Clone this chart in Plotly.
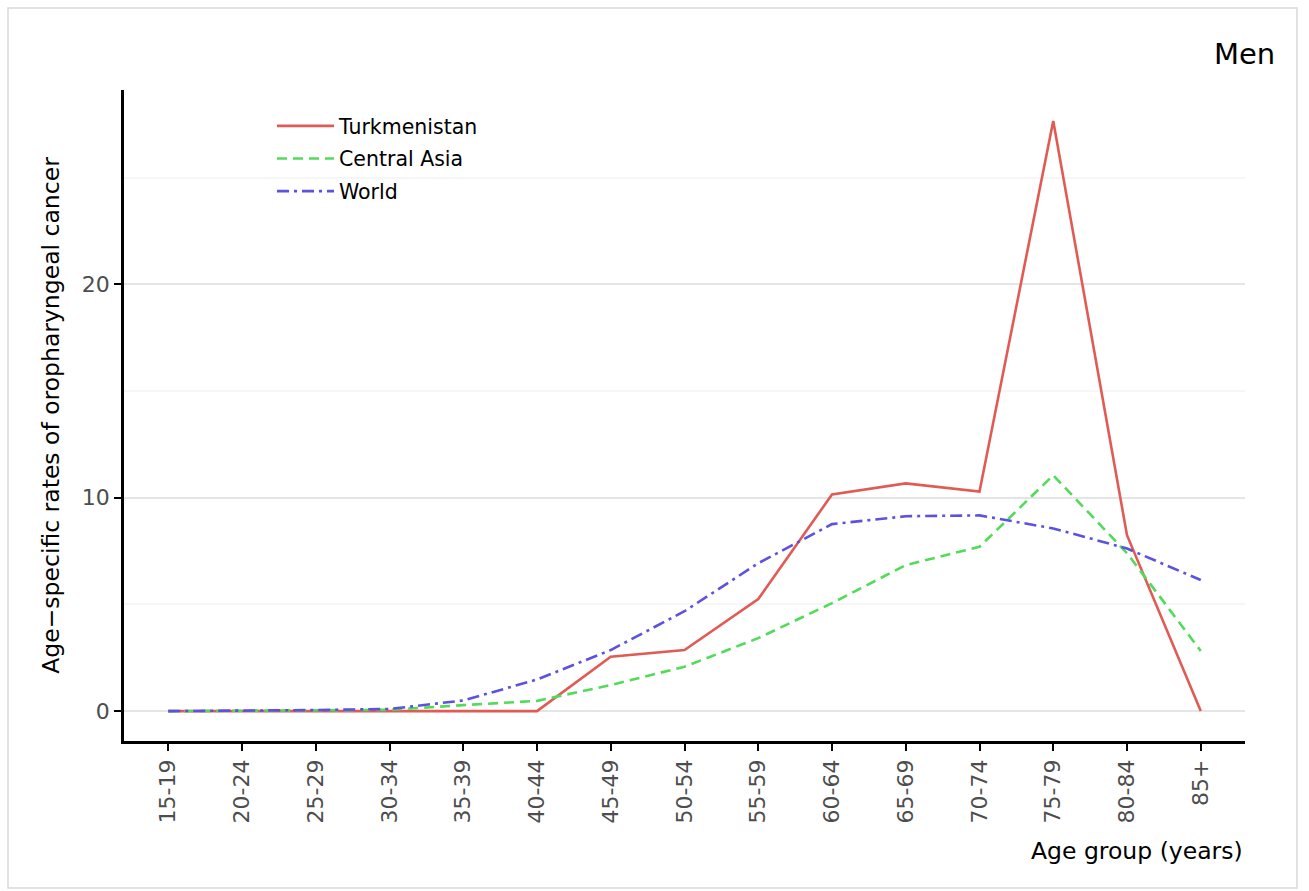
import plotly.graph_objects as go

# Age-specific rates of oropharyngeal cancer, men
age_groups = ["15-19", "20-24", "25-29", "30-34", "35-39", "40-44", "45-49",
              "50-54", "55-59", "60-64", "65-69", "70-74", "75-79", "80-84", "85+"]
turkmenistan = [0.0, 0.0, 0.0, 0.0, 0.0, 0.0, 2.55, 2.86, 5.25, 10.15, 10.67,
                10.29, 27.65, 8.24, 0.0]
central_asia = [0.0, 0.01, 0.03, 0.06, 0.28, 0.48, 1.22, 2.08, 3.42, 5.06, 6.84,
                7.70, 11.05, 7.40, 2.82]
world = [0.0, 0.02, 0.05, 0.10, 0.50, 1.48, 2.86, 4.68, 6.93, 8.76, 9.13,
         9.17, 8.56, 7.62, 6.14]

series = [
    ("Turkmenistan", turkmenistan, "#E05B54", "solid"),
    ("Central Asia", central_asia, "#52DB58", "10px,6px"),
    ("World", world, "#5B52DE", "12px,5px,3px,5px"),
]

FONT = "DejaVu Sans"
x_idx = list(range(len(age_groups)))

fig = go.Figure()
for name, vals, color, dash in series:
    fig.add_trace(go.Scatter(
        x=x_idx, y=vals, name=name, mode="lines", legendgroup=name,
        line=dict(color=color, width=2.6, dash=dash),
    ))

W, H = 1309, 891
L, R, T, B = 124, 64, 90, 150
pw, ph = W - L - R, H - T - B


def px_x(p):
    return (p - L) / pw


def px_y(p):
    return (H - B - p) / ph


fig.update_layout(
    width=W, height=H,
    margin=dict(l=L, r=R, t=T, b=B, pad=0),
    paper_bgcolor="white", plot_bgcolor="white",
    font=dict(family=FONT, color="black"),
    showlegend=True,
    legend=dict(
        x=px_x(272), y=px_y(106), xanchor="left", yanchor="top",
        bgcolor="rgba(0,0,0,0)", borderwidth=0,
        font=dict(family=FONT, size=20.5, color="black"),
        itemwidth=57, tracegroupgap=3,
    ),
    xaxis=dict(
        range=[-0.6, 14.6],
        tickmode="array", tickvals=x_idx, ticktext=age_groups,
        tickangle=-90,
        tickfont=dict(family=FONT, size=22, color="#4D4D4D"),
        ticks="outside", ticklen=7, tickwidth=2.2, tickcolor="black",
        showline=True, linecolor="black", linewidth=2.6,
        showgrid=False, zeroline=False,
    ),
    yaxis=dict(
        range=[-1.4, 29.1],
        tickmode="array", tickvals=[0, 10, 20], ticktext=["0", "10", "20"],
        tickfont=dict(family=FONT, size=22, color="#4D4D4D"),
        ticks="outside", ticklen=7, tickwidth=2.2, tickcolor="black",
        showline=True, linecolor="black", linewidth=2.6,
        showgrid=True, gridcolor="#E5E5E5", gridwidth=2,
        minor=dict(tickmode="array", tickvals=[5, 15, 25], showgrid=True,
                   gridcolor="#F6F6F6", gridwidth=2, ticks=""),
        zeroline=False,
        title=dict(text="Age\u2212specific rates of oropharyngeal cancer",
                   font=dict(family=FONT, size=23.5, color="black"), standoff=16),
    ),
    annotations=[
        dict(text="Age group (years)", xref="paper", yref="paper",
             x=1.0, y=px_y(851), xanchor="right", yanchor="middle",
             showarrow=False, font=dict(family=FONT, size=23.5, color="black")),
        dict(text="Men", xref="paper", yref="paper",
             x=px_x(1277), y=px_y(54), xanchor="right", yanchor="middle",
             showarrow=False, font=dict(family=FONT, size=29, color="black")),
    ],
    shapes=[
        dict(type="rect", xref="paper", yref="paper",
             x0=px_x(8), x1=px_x(1297), y0=px_y(888), y1=px_y(8),
             line=dict(color="#D9D9D9", width=1.5), fillcolor="rgba(0,0,0,0)",
             layer="below"),
    ],
)

fig.write_html("out.html")
